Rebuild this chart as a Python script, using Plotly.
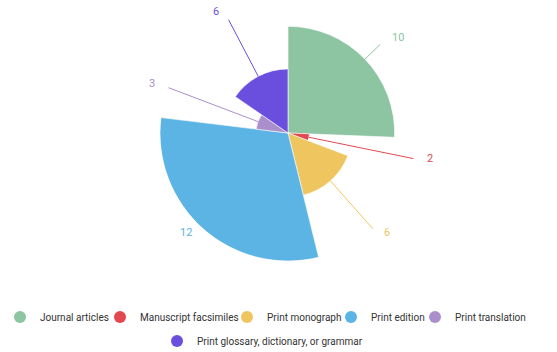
import math
import plotly.graph_objects as go

# Publication types and their counts
categories = [
    "Journal articles",
    "Manuscript facsimiles",
    "Print monograph",
    "Print edition",
    "Print translation",
    "Print glossary, dictionary, or grammar",
]
counts = [10, 2, 6, 12, 3, 6]

# Styling
colors = ["#8dc4a1", "#e2484f", "#eec55f", "#5bb4e4", "#aa8fcc", "#6a4fdf"]
legend_rows = ["legend", "legend", "legend", "legend", "legend", "legend2"]
legend_entry_widths = [55, 82, 59, 39, 72, 170]  # px of text room per legend entry
FONT = "Roboto, 'Noto Sans', sans-serif"

W, H = 557, 352
CX, CY = 288, 133          # pie centre, px
RADIUS_PX = 128            # radius of the largest sector, px

total = sum(counts)
widths = [c / total * 360.0 for c in counts]
mids = []
acc = 0.0
for w in widths:
    mids.append(acc + w / 2.0)
    acc += w

r_max = max(counts)
unit = RADIUS_PX / r_max
leader_r = r_max * 1.055   # where the radial part of each leader line ends
leader_h = 0.4             # horizontal tail of the leader line (radial units)

fig = go.Figure()

# Rose sectors: angle and radius both proportional to the count
fig.add_trace(go.Barpolar(
    r=counts,
    theta=mids,
    width=widths,
    marker=dict(color=colors, line=dict(color="white", width=0.6)),
    showlegend=False,
    hoverinfo="skip",
))


def to_xy(r, th):
    a = math.radians(th)
    return r * math.sin(a), r * math.cos(a)


def to_polar(x, y):
    return math.hypot(x, y), math.degrees(math.atan2(x, y)) % 360


annotations = []
# Leader lines and value labels
for name, c, th, col in zip(categories, counts, mids, colors):
    x1, y1 = to_xy(leader_r, th)
    side = 1 if x1 >= 0 else -1
    x2 = x1 + side * leader_h
    r2, th2 = to_polar(x2, y1)
    fig.add_trace(go.Scatterpolar(
        r=[c, leader_r, r2],
        theta=[th, th, th2],
        mode="lines",
        line=dict(color=col, width=1),
        cliponaxis=False,
        showlegend=False,
        hoverinfo="skip",
    ))
    annotations.append(dict(
        x=(CX + x2 * unit) / W,
        y=1 - (CY - y1 * unit - 2) / H,
        xref="paper",
        yref="paper",
        text=str(c),
        showarrow=False,
        xanchor="left" if side > 0 else "right",
        yanchor="middle",
        font=dict(color=col, size=11, family=FONT),
    ))

# Legend entries with round swatches
for name, col, lw, lg in zip(categories, colors, legend_entry_widths, legend_rows):
    fig.add_trace(go.Scatterpolar(
        r=[None],
        theta=[None],
        mode="markers",
        name=name,
        marker=dict(color=col, size=12, symbol="circle"),
        legendwidth=lw,
        legend=lg,
    ))

legend_style = dict(
    orientation="h",
    xref="container",
    yref="container",
    xanchor="left",
    yanchor="middle",
    font=dict(size=10, color="#333333", family=FONT),
    bgcolor="rgba(0,0,0,0)",
    itemwidth=30,
)

fig.update_layout(
    width=W,
    height=H,
    margin=dict(l=0, r=0, t=0, b=0, autoexpand=False),
    paper_bgcolor="white",
    plot_bgcolor="white",
    font=dict(family=FONT, color="#333333"),
    polar=dict(
        domain=dict(
            x=[(CX - RADIUS_PX) / W, (CX + RADIUS_PX) / W],
            y=[1 - (CY + RADIUS_PX) / H, 1 - (CY - RADIUS_PX) / H],
        ),
        bgcolor="rgba(0,0,0,0)",
        bargap=0,
        radialaxis=dict(visible=False, range=[0, r_max]),
        angularaxis=dict(
            visible=False,
            direction="clockwise",
            rotation=90,
            showgrid=False,
            showline=False,
            showticklabels=False,
            ticks="",
        ),
    ),
    legend=dict(legend_style, x=-2 / W, y=1 - 317 / H),
    legend2=dict(legend_style, x=157 / W, y=1 - 341 / H),
    annotations=annotations,
)

fig.write_html("out.html")
